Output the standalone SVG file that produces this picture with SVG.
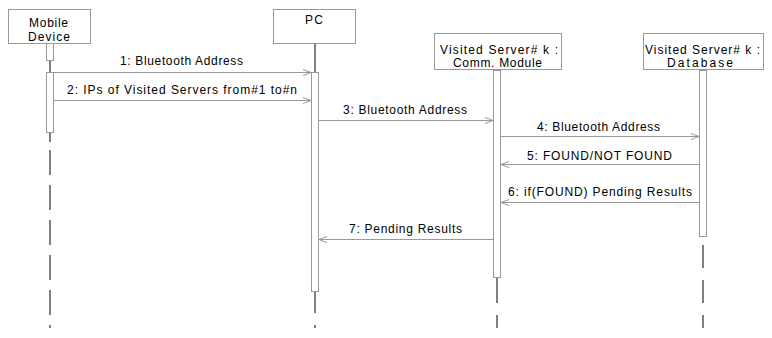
<svg xmlns="http://www.w3.org/2000/svg" width="772" height="338" viewBox="0 0 772 338">
<style>
.box{fill:#fff;stroke:#999;stroke-width:1}
.bar{fill:#fff;stroke:#999;stroke-width:1}
.life{stroke:#000;stroke-width:1}
.msg{stroke:#999;stroke-width:1;fill:none}
text{font-family:"Liberation Sans",Arial,sans-serif;font-size:12px;fill:#000}
</style>
<defs>
<marker id="ah" markerUnits="userSpaceOnUse" markerWidth="10" markerHeight="10" refX="8" refY="4" orient="auto">
<path d="M0,1 L8,4 L0,7" fill="none" stroke="#999" stroke-width="1"/>
</marker>
</defs>
<rect width="772" height="338" fill="#fff"/>
<g id="lifelines">
<line class="life" x1="50" y1="61" x2="50" y2="72"/>
<line class="life" x1="50" y1="133" x2="50" y2="142"/>
<line class="life" x1="50" y1="150" x2="50" y2="175"/>
<line class="life" x1="50" y1="185" x2="50" y2="210"/>
<line class="life" x1="50" y1="220" x2="50" y2="245"/>
<line class="life" x1="50" y1="255" x2="50" y2="280"/>
<line class="life" x1="50" y1="290" x2="50" y2="315"/>
<line class="life" x1="50" y1="325" x2="50" y2="328"/>
<line class="life" x1="315" y1="44" x2="315" y2="72"/>
<line class="life" x1="315" y1="292" x2="315" y2="313"/>
<line class="life" x1="315" y1="325" x2="315" y2="328"/>
<line class="life" x1="497" y1="278" x2="497" y2="303"/>
<line class="life" x1="497" y1="315" x2="497" y2="328"/>
<line class="life" x1="703" y1="245" x2="703" y2="268"/>
<line class="life" x1="703" y1="280" x2="703" y2="303"/>
<line class="life" x1="703" y1="315" x2="703" y2="328"/>
</g>
<g id="mobile">
<rect class="box" x="8.5" y="9.5" width="82" height="34"/>
<text x="29" y="27" textLength="39" lengthAdjust="spacing">Mobile</text>
<text x="28" y="41" textLength="42" lengthAdjust="spacing">Device</text>
<rect class="bar" x="46.5" y="43.5" width="7" height="17"/>
<rect class="bar" x="46.5" y="72.5" width="7" height="60"/>
</g>
<g id="pc">
<rect class="box" x="273.5" y="9.5" width="82" height="34"/>
<text x="305" y="24" textLength="18" lengthAdjust="spacing">PC</text>
<rect class="bar" x="311.5" y="72.5" width="7" height="219"/>
</g>
<g id="comm">
<rect class="box" x="434.5" y="33.5" width="127" height="36"/>
<text x="440" y="54" textLength="118" lengthAdjust="spacing">Visited Server# k :</text>
<text x="453" y="67" textLength="89" lengthAdjust="spacing">Comm. Module</text>
<rect class="bar" x="493.5" y="70.5" width="7" height="207"/>
</g>
<g id="db">
<rect class="box" x="643.5" y="33.5" width="120" height="36"/>
<text x="645" y="54" textLength="115" lengthAdjust="spacing">Visited Server# k :</text>
<text x="667" y="67" textLength="66" lengthAdjust="spacing">Database</text>
<rect class="bar" x="699.5" y="70.5" width="7" height="166"/>
</g>
<g id="connectors">
<line class="msg" x1="54" y1="72.5" x2="311" y2="72.5" marker-end="url(#ah)"/>
<text x="120" y="65" textLength="123" lengthAdjust="spacing">1: Bluetooth Address</text>
<line class="msg" x1="54" y1="100.5" x2="311" y2="100.5" marker-end="url(#ah)"/>
<text x="67" y="94" textLength="230" lengthAdjust="spacing">2: IPs of Visited Servers from#1 to#n</text>
<line class="msg" x1="319" y1="120.5" x2="493" y2="120.5" marker-end="url(#ah)"/>
<text x="343" y="114" textLength="124" lengthAdjust="spacing">3: Bluetooth Address</text>
<line class="msg" x1="501" y1="136.5" x2="699" y2="136.5" marker-end="url(#ah)"/>
<text x="537" y="131" textLength="123" lengthAdjust="spacing">4: Bluetooth Address</text>
<line class="msg" x1="699" y1="164.5" x2="501" y2="164.5" marker-end="url(#ah)"/>
<text x="527" y="160" textLength="145" lengthAdjust="spacing">5: FOUND/NOT FOUND</text>
<line class="msg" x1="699" y1="202.5" x2="501" y2="202.5" marker-end="url(#ah)"/>
<text x="508" y="196" textLength="184" lengthAdjust="spacing">6: if(FOUND) Pending Results</text>
<line class="msg" x1="493" y1="239.5" x2="319" y2="239.5" marker-end="url(#ah)"/>
<text x="349" y="233" textLength="113" lengthAdjust="spacing">7: Pending Results</text>
</g>
</svg>
